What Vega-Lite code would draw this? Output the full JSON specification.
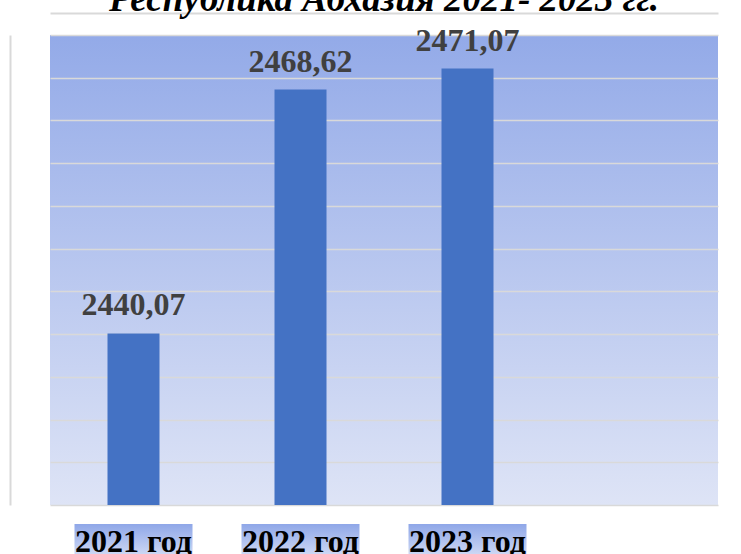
{
  "$schema": "https://vega.github.io/schema/vega-lite/v6.json",
  "width": 668,
  "height": 470,
  "autosize": "none",
  "padding": {"left": 50, "top": 35, "right": 23, "bottom": 49},
  "background": "white",
  "title": {
    "text": "Республика Абхазия 2021- 2023 гг.",
    "font": "Liberation Serif",
    "fontSize": 37,
    "fontWeight": "bold",
    "fontStyle": "italic",
    "color": "black",
    "anchor": "middle",
    "baseline": "alphabetic",
    "offset": 5,
    "dy": 40
  },
  "data": {
    "values": [
      {"year": "2021 год", "value": 2440.07},
      {"year": "2022 год", "value": 2468.62},
      {"year": "2023 год", "value": 2471.07}
    ]
  },
  "config": {
    "locale": {"number": {"decimal": ",", "thousands": "", "grouping": [3], "currency": ["", ""]}},
    "view": {
      "stroke": null,
      "fill": {
        "gradient": "linear", "x1": 0, "y1": 0, "x2": 0, "y2": 1,
        "stops": [{"offset": 0, "color": "#93AAE8"}, {"offset": 1, "color": "#DEE4F6"}]
      }
    }
  },
  "resolve": {"axis": {"x": "independent", "y": "independent"}},
  "layer": [
    {
      "mark": {
        "type": "bar",
        "width": 118,
        "yOffset": 19,
        "y2Offset": 60,
        "fill": {
          "gradient": "linear", "x1": 0, "y1": 0, "x2": 0, "y2": 1,
          "stops": [{"offset": 0, "color": "#8FA7E8"}, {"offset": 1, "color": "#E2E8F8"}]
        }
      },
      "encoding": {
        "x": {
          "field": "year",
          "type": "nominal",
          "sort": null,
          "scale": {"domain": ["2021 год", "2022 год", "2023 год", " "], "paddingInner": 0, "paddingOuter": 0},
          "axis": {
            "orient": "bottom",
            "title": null,
            "domain": false,
            "ticks": false,
            "tickSize": 0,
            "labelFont": "Liberation Serif",
            "labelFontSize": 32,
            "labelFontWeight": "bold",
            "labelColor": "black",
            "labelAngle": 0,
            "labelBaseline": "alphabetic",
            "labelPadding": 46,
            "labelOverlap": false,
            "labelBound": false,
            "zindex": 2
          }
        },
        "y": {
          "datum": 2420,
          "type": "quantitative",
          "scale": {"domain": [2420, 2475], "zero": false, "nice": false},
          "axis": {"orient": "left", "title": null, "labels": false, "ticks": false, "domain": false, "grid": true, "gridColor": "#D9D9D9", "gridWidth": 1.5, "values": [2420, 2425, 2430, 2435, 2440, 2445, 2450, 2455, 2460, 2465, 2470, 2475]}
        },
        "y2": {"datum": 2420}
      }
    },
    {
      "mark": {"type": "bar", "width": 52, "color": "#4472C4"},
      "encoding": {
        "x": {"field": "year", "type": "nominal", "sort": null, "axis": null},
        "y": {"field": "value", "type": "quantitative", "axis": null},
        "y2": {"datum": 2420}
      }
    },
    {
      "mark": {"type": "text", "font": "Liberation Serif", "fontSize": 32, "fontWeight": "bold", "color": "#404040", "baseline": "alphabetic", "dy": -18},
      "encoding": {
        "x": {
          "field": "year", "type": "nominal", "sort": null,
          "axis": {"orient": "top", "title": null, "labels": false, "ticks": false, "grid": false, "domain": true, "domainColor": "#D9D9D9", "domainWidth": 2, "offset": 22}
        },
        "y": {
          "field": "value", "type": "quantitative",
          "axis": {"orient": "left", "title": null, "labels": false, "ticks": false, "grid": false, "domain": true, "domainColor": "#D9D9D9", "domainWidth": 2, "offset": 40}
        },
        "text": {"field": "value", "type": "quantitative", "format": ".2f"}
      }
    }
  ]
}
